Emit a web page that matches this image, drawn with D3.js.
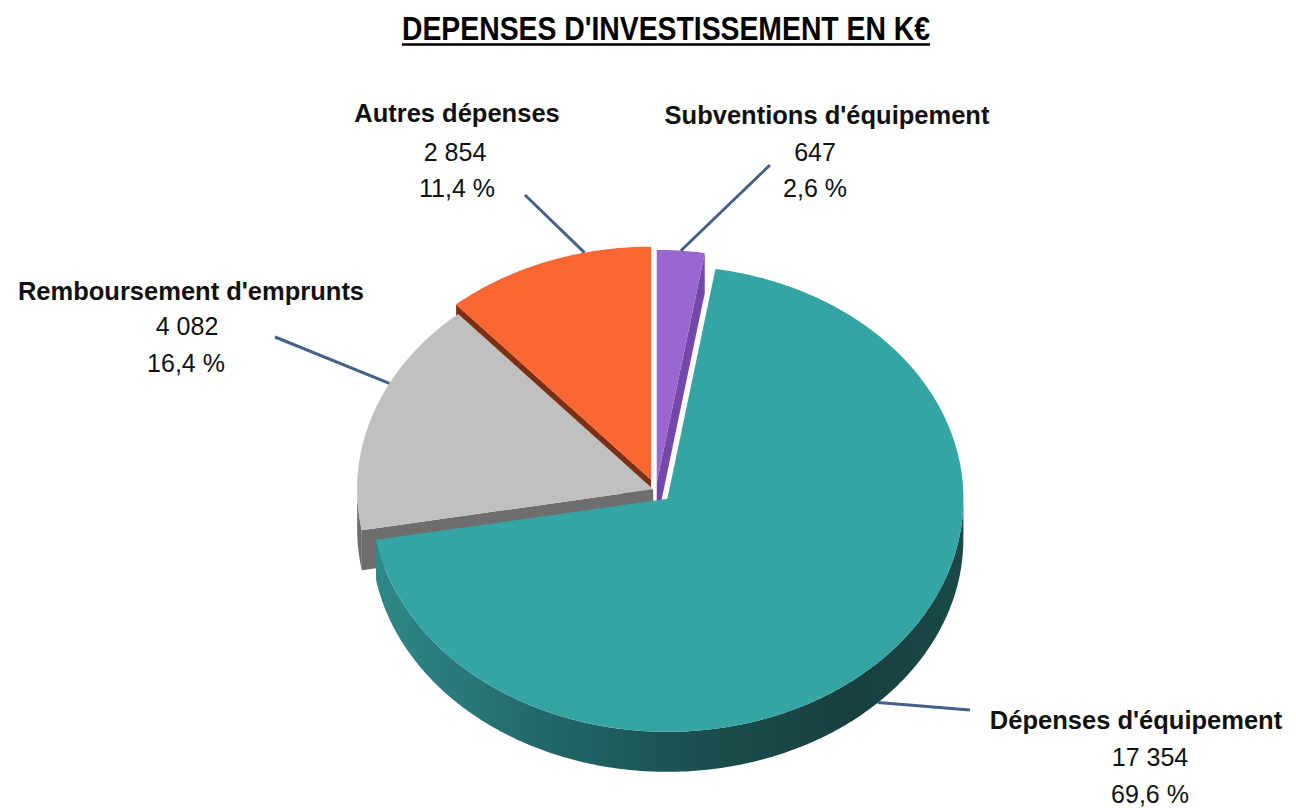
<!DOCTYPE html>
<html>
<head>
<meta charset="utf-8">
<title>Dépenses d'investissement</title>
<script src="https://cdn.jsdelivr.net/npm/d3@7"></script>
<style>
  html, body { margin: 0; padding: 0; background: #ffffff; }
  svg { display: block; }
</style>
</head>
<body>
<svg id="chart" width="1296" height="808"></svg>
<script>
// ---- Data -------------------------------------------------------------
const categories = [
  "Subventions d'équipement",
  "Dépenses d'équipement",
  "Remboursement d'emprunts",
  "Autres dépenses"
];
const values = [647, 17354, 4082, 2854];
const title = "DEPENSES D'INVESTISSEMENT EN K€";

// ---- Styling ----------------------------------------------------------
const topColors  = ["#9a66cf", "#35a5a4", "#c0c0c0", "#fc6633"];
const wallColors = ["#7547a9", "url(#tealWall)", "#6e6e6e", "#7c2f12"];
const explode    = [9, 16, 3, 14];          // slice pull-out, px along the radius

// ---- Geometry of the tilted pie ---------------------------------------
const W = 1296, H = 808;
const geo = { cx: 656, cy: 490, rx: 296, ry: 233, depth: 40 };
const DEG = Math.PI / 180;

// Label placement (text anchors and leader lines)
const labelLayout = [
  { name: [827, 124],  value: [815, 161],  pct: [815, 197],  from: [770, 165], angle: null,      z: 0 },
  { name: [1136, 729], value: [1150, 766], pct: [1150, 803], from: [970, 710], angle: null,      z: geo.depth },
  { name: [191, 300],  value: [187, 335],  pct: [186, 372],  from: [275, 337], angle: 297 * DEG, z: 0 },
  { name: [457, 122],  value: [455, 161],  pct: [457, 197],  from: [525, 195], angle: 347 * DEG, z: 0 }
];

const fr = d3.formatLocale({ decimal: ",", thousands: " ", grouping: [3], currency: ["", " €"] });
const fmtValue = fr.format(",.0f");
const fmtPct = fr.format(".1f");

const svg = d3.select("#chart");

// Side gradient for the large teal slice
const defs = svg.append("defs");
const g1 = defs.append("linearGradient")
  .attr("id", "tealWall")
  .attr("gradientUnits", "userSpaceOnUse")
  .attr("x1", 360).attr("y1", 0).attr("x2", 975).attr("y2", 0);
[[0, "#2f8c8b"], [0.3, "#226868"], [0.55, "#1b4f4f"], [0.8, "#173f3f"], [1, "#1b4a4a"]]
  .forEach(([o, c]) => g1.append("stop").attr("offset", o).attr("stop-color", c));

// ---- Pie layout -------------------------------------------------------
const data = categories.map((name, i) => ({ name, value: values[i], i }));
const total = d3.sum(values);
const pie = d3.pie().sort(null).value(d => d.value).startAngle(0).endAngle(2 * Math.PI);
const slices = pie(data).map(s => {
  const mid = (s.startAngle + s.endAngle) / 2;
  const e = explode[s.data.i];
  s.ox = e * Math.sin(mid);
  s.oy = -e * Math.cos(mid) * geo.ry / geo.rx;
  s.mid = mid;
  return s;
});

// point on the slice at angle a, radius fraction r, depth z
function pt(s, a, r, z) {
  return [
    geo.cx + s.ox + r * geo.rx * Math.sin(a),
    geo.cy + s.oy - r * geo.ry * Math.cos(a) + z
  ];
}
function rim(s, a0, a1, z) {
  const n = Math.max(2, Math.ceil((a1 - a0) / 0.01));
  return d3.range(n + 1).map(k => pt(s, a0 + (a1 - a0) * k / n, 1, z));
}
const line = d3.line();
const closed = pts => line(pts) + "Z";

// Collect the faces, then paint them back to front
const walls = [], outers = [], tops = [];
slices.forEach(s => {
  const i = s.data.i, a0 = s.startAngle, a1 = s.endAngle, d = geo.depth;
  const c0 = pt(s, 0, 0, 0), c1 = pt(s, 0, 0, d);

  // radial cut faces that turn toward the viewer
  [[a0, Math.sin(a0) < -1e-6], [a1, Math.sin(a1) > 1e-6]].forEach(([a, visible]) => {
    if (!visible) return;
    const pts = [c0, pt(s, a, 1, 0), pt(s, a, 1, d), c1];
    walls.push({ pts, fill: wallColors[i], key: d3.mean(pts, p => p[1]) });
  });

  // outer curved wall on the front half
  const f0 = Math.max(a0, Math.PI / 2), f1 = Math.min(a1, 3 * Math.PI / 2);
  if (f0 < f1) {
    const pts = rim(s, f0, f1, 0).concat(rim(s, f0, f1, d).reverse());
    outers.push({ pts, fill: wallColors[i], key: d3.mean(pts, p => p[1]) });
  }

  // top face
  tops.push({ pts: [c0].concat(rim(s, a0, a1, 0)), fill: topColors[i], key: c0[1] });
});

const byKey = (a, b) => a.key - b.key;
[walls.sort(byKey), outers.sort(byKey), tops.sort(byKey)].forEach(faces => {
  svg.append("g").selectAll("path")
    .data(faces)
    .join("path")
    .attr("d", f => closed(f.pts))
    .attr("fill", f => f.fill);
});

// ---- Leader lines -----------------------------------------------------
const gLabels = svg.append("g");
slices.forEach(s => {
  const L = labelLayout[s.data.i];
  const a = L.angle === null ? s.mid : L.angle;
  const p = pt(s, a, 1, L.z);
  gLabels.append("line")
    .attr("x1", L.from[0]).attr("y1", L.from[1])
    .attr("x2", p[0]).attr("y2", p[1])
    .attr("stroke", "#44618a").attr("stroke-width", 3);
});

// ---- Labels -----------------------------------------------------------
const font = "'Liberation Sans', Arial, sans-serif";
slices.forEach(s => {
  const L = labelLayout[s.data.i];
  gLabels.append("text")
    .attr("x", L.name[0]).attr("y", L.name[1])
    .attr("text-anchor", "middle")
    .attr("font-family", font).attr("font-weight", "bold").attr("font-size", 25.5)
    .attr("fill", "#111")
    .text(s.data.name);
  gLabels.append("text")
    .attr("x", L.value[0]).attr("y", L.value[1])
    .attr("text-anchor", "middle")
    .attr("font-family", font).attr("font-size", 25)
    .attr("fill", "#111")
    .text(fmtValue(s.data.value));
  gLabels.append("text")
    .attr("x", L.pct[0]).attr("y", L.pct[1])
    .attr("text-anchor", "middle")
    .attr("font-family", font).attr("font-size", 25)
    .attr("fill", "#111")
    .text(fmtPct(s.data.value / total * 100) + " %");
});

// ---- Title ------------------------------------------------------------
svg.append("text")
  .attr("x", 666).attr("y", 39.5)
  .attr("text-anchor", "middle")
  .attr("font-family", "'Liberation Sans Narrow', 'Liberation Sans', Arial, sans-serif")
  .attr("font-weight", "bold").attr("font-size", 34)
  .attr("textLength", 528).attr("lengthAdjust", "spacingAndGlyphs")
  .attr("fill", "#000")
  .text(title);
svg.append("line")
  .attr("x1", 402).attr("x2", 930).attr("y1", 44.5).attr("y2", 44.5)
  .attr("stroke", "#000").attr("stroke-width", 2.5);
</script>
</body>
</html>
